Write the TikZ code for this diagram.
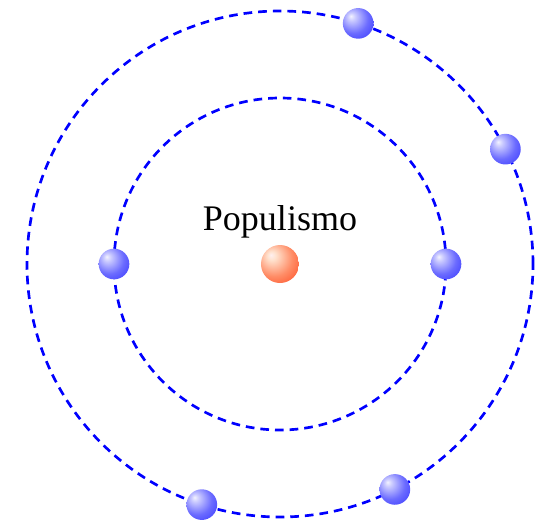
\documentclass[tikz,border=0pt]{standalone}
\usepackage{fontspec}
\setmainfont{Liberation Serif}
\usepackage{tikz}
\usetikzlibrary{shadings}

% soft glossy balls, no dark rim
\pgfdeclareradialshading{eball}{\pgfpoint{-12bp}{12bp}}{%
  color(0bp)=(blue!5); color(6bp)=(blue!20); color(24bp)=(blue!58);
  color(48bp)=(blue!85); color(70bp)=(blue!92)}
\pgfdeclareradialshading{nball}{\pgfpoint{-12bp}{12bp}}{%
  color(0bp)=(red!6); color(6bp)=(red!20!orange!20); color(24bp)=(red!50!orange!60);
  color(48bp)=(red!65!orange!95); color(70bp)=(red!65!orange)}

\begin{document}
\begin{tikzpicture}[
  x=0.75pt, y=0.75pt,
  orbit/.style={draw=blue, line width=2pt, dash pattern=on 6.5pt off 4.5pt},
  electron/.style={circle, minimum size=23pt, inner sep=0pt,
                   shading=eball},
  nucleus/.style={circle, minimum size=28.5pt, inner sep=0pt,
                  shading=nball},
  lbl/.style={font=\fontsize{27}{30}\selectfont, inner sep=0pt},
]
\useasboundingbox (-280,-258) rectangle (263,264);

% --- Nucleus ---
\node[nucleus] (nuc) at (0,0) {};
\node[lbl] (name) at (0,42) {Populismo};

% --- Orbits ---
\draw[orbit] (nuc.center) circle (166);
\draw[orbit] (nuc.center) circle (253);

% --- Inner electrons ---
\node[electron] (i1) at ([shift={(180:166)}]nuc.center) {};
\node[electron] (i2) at ([shift={(0:166)}]nuc.center) {};

% --- Outer electrons ---
\node[electron] (o1) at ([shift={(72:253)}]nuc.center) {};
\node[electron] (o2) at ([shift={(27:253)}]nuc.center) {};
\node[electron] (o3) at ([shift={(-63:253)}]nuc.center) {};
\node[electron] (o4) at ([shift={(-108:253)}]nuc.center) {};

\end{tikzpicture}
\end{document}
